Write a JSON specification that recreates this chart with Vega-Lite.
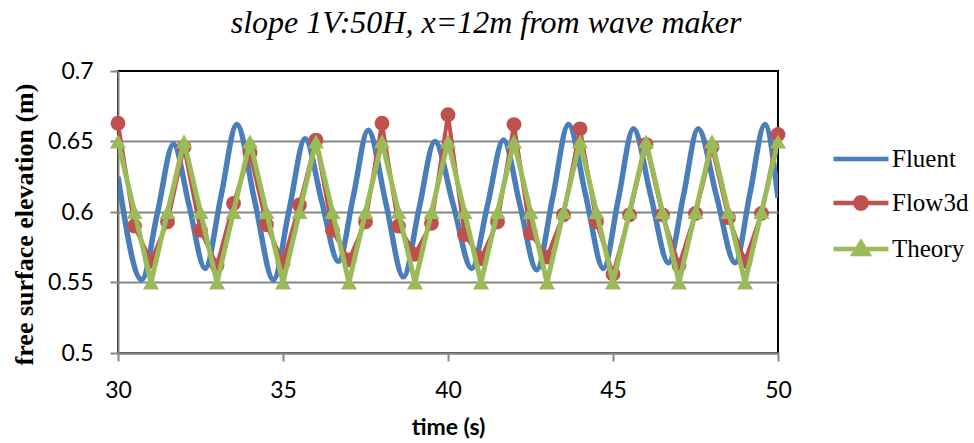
{
  "$schema": "https://vega.github.io/schema/vega-lite/v6.json",
  "width": 660,
  "height": 282,
  "autosize": {"type": "none"},
  "padding": {"left": 118, "top": 71, "right": 196, "bottom": 90},
  "background": "white",
  "title": {
    "text": "slope 1V:50H, x=12m from wave maker",
    "font": "Liberation Serif",
    "fontStyle": "italic",
    "fontWeight": "normal",
    "fontSize": 32,
    "color": "#000000",
    "anchor": "middle",
    "dx": 38,
    "offset": 20
  },
  "config": {
    "view": {"stroke": "#000000", "strokeWidth": 2},
    "axis": {
      "labelFont": "Lato",
      "labelFontSize": 23,
      "labelColor": "#000000",
      "domainColor": "#868686",
      "domainWidth": 2,
      "tickColor": "#868686",
      "tickWidth": 2,
      "tickSize": 8,
      "gridColor": "#868686",
      "gridWidth": 2
    }
  },
  "data": {
    "values": [
      {"s": "Fluent", "t": 30, "v": 0.625},
      {"s": "Fluent", "t": 30.72, "v": 0.552},
      {"s": "Fluent", "t": 31.2, "v": 0.6},
      {"s": "Fluent", "t": 31.68, "v": 0.648},
      {"s": "Fluent", "t": 32.16, "v": 0.604},
      {"s": "Fluent", "t": 32.64, "v": 0.56},
      {"s": "Fluent", "t": 33.12, "v": 0.611},
      {"s": "Fluent", "t": 33.6, "v": 0.662},
      {"s": "Fluent", "t": 34.15, "v": 0.607},
      {"s": "Fluent", "t": 34.71, "v": 0.552},
      {"s": "Fluent", "t": 35.19, "v": 0.602},
      {"s": "Fluent", "t": 35.67, "v": 0.652},
      {"s": "Fluent", "t": 36.17, "v": 0.608},
      {"s": "Fluent", "t": 36.68, "v": 0.565},
      {"s": "Fluent", "t": 37.13, "v": 0.611},
      {"s": "Fluent", "t": 37.58, "v": 0.658},
      {"s": "Fluent", "t": 38.12, "v": 0.606},
      {"s": "Fluent", "t": 38.65, "v": 0.554},
      {"s": "Fluent", "t": 39.12, "v": 0.602},
      {"s": "Fluent", "t": 39.6, "v": 0.65},
      {"s": "Fluent", "t": 40.16, "v": 0.605},
      {"s": "Fluent", "t": 40.72, "v": 0.56},
      {"s": "Fluent", "t": 41.2, "v": 0.605},
      {"s": "Fluent", "t": 41.68, "v": 0.651},
      {"s": "Fluent", "t": 42.18, "v": 0.605},
      {"s": "Fluent", "t": 42.69, "v": 0.559},
      {"s": "Fluent", "t": 43.17, "v": 0.61},
      {"s": "Fluent", "t": 43.65, "v": 0.662},
      {"s": "Fluent", "t": 44.18, "v": 0.611},
      {"s": "Fluent", "t": 44.71, "v": 0.56},
      {"s": "Fluent", "t": 45.16, "v": 0.609},
      {"s": "Fluent", "t": 45.62, "v": 0.659},
      {"s": "Fluent", "t": 46.15, "v": 0.611},
      {"s": "Fluent", "t": 46.68, "v": 0.564},
      {"s": "Fluent", "t": 47.13, "v": 0.611},
      {"s": "Fluent", "t": 47.58, "v": 0.659},
      {"s": "Fluent", "t": 48.14, "v": 0.611},
      {"s": "Fluent", "t": 48.7, "v": 0.564},
      {"s": "Fluent", "t": 49.15, "v": 0.613},
      {"s": "Fluent", "t": 49.6, "v": 0.662},
      {"s": "Fluent", "t": 50, "v": 0.61},
      {"s": "Flow3d", "t": 30, "v": 0.663},
      {"s": "Flow3d", "t": 30.5, "v": 0.59},
      {"s": "Flow3d", "t": 31, "v": 0.565},
      {"s": "Flow3d", "t": 31.5, "v": 0.593},
      {"s": "Flow3d", "t": 32, "v": 0.646},
      {"s": "Flow3d", "t": 32.5, "v": 0.587},
      {"s": "Flow3d", "t": 33, "v": 0.562},
      {"s": "Flow3d", "t": 33.5, "v": 0.606},
      {"s": "Flow3d", "t": 34, "v": 0.642},
      {"s": "Flow3d", "t": 34.5, "v": 0.591},
      {"s": "Flow3d", "t": 35, "v": 0.564},
      {"s": "Flow3d", "t": 35.5, "v": 0.605},
      {"s": "Flow3d", "t": 36, "v": 0.651},
      {"s": "Flow3d", "t": 36.5, "v": 0.587},
      {"s": "Flow3d", "t": 37, "v": 0.566},
      {"s": "Flow3d", "t": 37.5, "v": 0.593},
      {"s": "Flow3d", "t": 38, "v": 0.663},
      {"s": "Flow3d", "t": 38.5, "v": 0.59},
      {"s": "Flow3d", "t": 39, "v": 0.57},
      {"s": "Flow3d", "t": 39.5, "v": 0.592},
      {"s": "Flow3d", "t": 40, "v": 0.669},
      {"s": "Flow3d", "t": 40.5, "v": 0.584},
      {"s": "Flow3d", "t": 41, "v": 0.567},
      {"s": "Flow3d", "t": 41.5, "v": 0.593},
      {"s": "Flow3d", "t": 42, "v": 0.662},
      {"s": "Flow3d", "t": 42.5, "v": 0.585},
      {"s": "Flow3d", "t": 43, "v": 0.568},
      {"s": "Flow3d", "t": 43.5, "v": 0.598},
      {"s": "Flow3d", "t": 44, "v": 0.659},
      {"s": "Flow3d", "t": 44.5, "v": 0.593},
      {"s": "Flow3d", "t": 45, "v": 0.556},
      {"s": "Flow3d", "t": 45.5, "v": 0.598},
      {"s": "Flow3d", "t": 46, "v": 0.648},
      {"s": "Flow3d", "t": 46.5, "v": 0.598},
      {"s": "Flow3d", "t": 47, "v": 0.562},
      {"s": "Flow3d", "t": 47.5, "v": 0.599},
      {"s": "Flow3d", "t": 48, "v": 0.646},
      {"s": "Flow3d", "t": 48.5, "v": 0.596},
      {"s": "Flow3d", "t": 49, "v": 0.565},
      {"s": "Flow3d", "t": 49.5, "v": 0.599},
      {"s": "Flow3d", "t": 50, "v": 0.655},
      {"s": "Theory", "t": 30, "v": 0.65},
      {"s": "Theory", "t": 30.5, "v": 0.6},
      {"s": "Theory", "t": 31, "v": 0.55},
      {"s": "Theory", "t": 31.5, "v": 0.6},
      {"s": "Theory", "t": 32, "v": 0.65},
      {"s": "Theory", "t": 32.5, "v": 0.6},
      {"s": "Theory", "t": 33, "v": 0.55},
      {"s": "Theory", "t": 33.5, "v": 0.6},
      {"s": "Theory", "t": 34, "v": 0.65},
      {"s": "Theory", "t": 34.5, "v": 0.6},
      {"s": "Theory", "t": 35, "v": 0.55},
      {"s": "Theory", "t": 35.5, "v": 0.6},
      {"s": "Theory", "t": 36, "v": 0.65},
      {"s": "Theory", "t": 36.5, "v": 0.6},
      {"s": "Theory", "t": 37, "v": 0.55},
      {"s": "Theory", "t": 37.5, "v": 0.6},
      {"s": "Theory", "t": 38, "v": 0.65},
      {"s": "Theory", "t": 38.5, "v": 0.6},
      {"s": "Theory", "t": 39, "v": 0.55},
      {"s": "Theory", "t": 39.5, "v": 0.6},
      {"s": "Theory", "t": 40, "v": 0.65},
      {"s": "Theory", "t": 40.5, "v": 0.6},
      {"s": "Theory", "t": 41, "v": 0.55},
      {"s": "Theory", "t": 41.5, "v": 0.6},
      {"s": "Theory", "t": 42, "v": 0.65},
      {"s": "Theory", "t": 42.5, "v": 0.6},
      {"s": "Theory", "t": 43, "v": 0.55},
      {"s": "Theory", "t": 43.5, "v": 0.6},
      {"s": "Theory", "t": 44, "v": 0.65},
      {"s": "Theory", "t": 44.5, "v": 0.6},
      {"s": "Theory", "t": 45, "v": 0.55},
      {"s": "Theory", "t": 45.5, "v": 0.6},
      {"s": "Theory", "t": 46, "v": 0.65},
      {"s": "Theory", "t": 46.5, "v": 0.6},
      {"s": "Theory", "t": 47, "v": 0.55},
      {"s": "Theory", "t": 47.5, "v": 0.6},
      {"s": "Theory", "t": 48, "v": 0.65},
      {"s": "Theory", "t": 48.5, "v": 0.6},
      {"s": "Theory", "t": 49, "v": 0.55},
      {"s": "Theory", "t": 49.5, "v": 0.6},
      {"s": "Theory", "t": 50, "v": 0.65}
    ]
  },
  "encoding": {
    "x": {
      "field": "t",
      "type": "quantitative",
      "scale": {"domain": [30, 50], "nice": false, "zero": false},
      "axis": {
        "values": [30, 35, 40, 45, 50],
        "grid": false,
        "labelPadding": 18,
        "labelFlush": false,
        "title": "time (s)",
        "titleFont": "Lato",
        "titleFontSize": 23,
        "titleFontWeight": "bold",
        "titleColor": "#000000",
        "titlePadding": 14
      }
    },
    "y": {
      "field": "v",
      "type": "quantitative",
      "scale": {"domain": [0.5, 0.7], "nice": false, "zero": false},
      "axis": {
        "values": [0.5, 0.55, 0.6, 0.65, 0.7],
        "format": ".2~f",
        "labelPadding": 17,
        "labelFlush": false,
        "gridColor": {"condition": {"test": "datum.value >= 0.69", "value": "transparent"}, "value": "#868686"},
        "title": "free surface elevation (m)",
        "titleFont": "Liberation Serif",
        "titleFontSize": 26,
        "titleFontWeight": "bold",
        "titleColor": "#000000",
        "titleAngle": -90,
        "titleAlign": "center",
        "titleBaseline": "alphabetic",
        "titleX": -86,
        "titleY": 153
      }
    }
  },
  "layer": [
    {
      "transform": [{"filter": "datum.s == 'Fluent'"}],
      "mark": {"type": "line", "color": "#4a7ebb", "strokeWidth": 5.5, "interpolate": "monotone", "clip": true}
    },
    {
      "transform": [{"filter": "datum.s == 'Flow3d'"}],
      "mark": {"type": "line", "color": "#c0504d", "strokeWidth": 4, "clip": true}
    },
    {
      "transform": [{"filter": "datum.s == 'Flow3d'"}],
      "mark": {"type": "point", "shape": "circle", "filled": true, "color": "#c0504d", "opacity": 1, "size": 220}
    },
    {
      "transform": [{"filter": "datum.s == 'Theory'"}],
      "mark": {"type": "line", "color": "#9bbb59", "strokeWidth": 5, "clip": true}
    },
    {
      "transform": [{"filter": "datum.s == 'Theory'"}],
      "mark": {"type": "point", "shape": "triangle-up", "filled": true, "color": "#9bbb59", "opacity": 1, "size": 260}
    },
    {
      "mark": {"type": "point", "filled": true, "opacity": 1, "size": 0, "strokeWidth": 0},
      "encoding": {
        "fill": {
          "field": "s",
          "type": "nominal",
          "scale": {"domain": ["Fluent", "Flow3d", "Theory"], "range": ["#4a7ebb", "#c0504d", "#9bbb59"]},
          "legend": {
            "title": null,
            "orient": "none",
            "legendX": 727,
            "legendY": 72,
            "padding": 0,
            "symbolSize": 756,
            "symbolStrokeWidth": 4.5,
            "symbolOpacity": 1,
            "labelOffset": 15,
            "labelFont": "Liberation Serif",
            "labelFontSize": 25,
            "labelColor": "#000000",
            "rowPadding": 15,
            "labelLimit": 200
          }
        },
        "stroke": {
          "field": "s",
          "type": "nominal",
          "scale": {"domain": ["Fluent", "Flow3d", "Theory"], "range": ["#4a7ebb", "#c0504d", "#9bbb59"]}
        },
        "shape": {
          "field": "s",
          "type": "nominal",
          "scale": {
            "domain": ["Fluent", "Flow3d", "Theory"],
            "range": [
              "M-2,0H2",
              "M-2,0H2M0.42,0L0.36,0.21L0.21,0.36L0,0.42L-0.21,0.36L-0.36,0.21L-0.42,0L-0.36,-0.21L-0.21,-0.36L0,-0.42L0.21,-0.36L0.36,-0.21Z",
              "M-2,0H2M0,-0.48L0.52,0.36L-0.52,0.36Z"
            ]
          }
        }
      }
    }
  ]
}
